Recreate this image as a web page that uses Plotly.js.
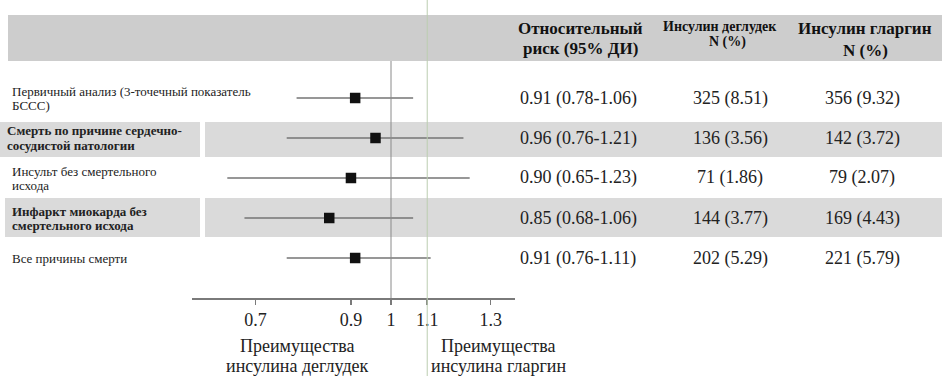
<!DOCTYPE html>
<html><head><meta charset="utf-8">
<script src="https://cdn.plot.ly/plotly-3.0.1.min.js"></script>
<style>html,body{margin:0;padding:0;background:#fff}</style>
</head><body><div id="chart" style="width:942px;height:376px"></div>
<script>
// ---- data ----
const outcomes = [
  "Первичный анализ (3-точечный показатель|БССС)",
  "Смерть по причине сердечно-|сосудистой патологии",
  "Инсульт без смертельного|исхода",
  "Инфаркт миокарда без|смертельного исхода",
  "Все причины смерти"
];
const hr = [0.91, 0.96, 0.90, 0.85, 0.91];
const ciLow = [0.78, 0.76, 0.65, 0.68, 0.76];
const ciHigh = [1.06, 1.21, 1.23, 1.06, 1.11];
const degN = [325, 136, 71, 144, 202];
const degPct = ["8.51", "3.56", "1.86", "3.77", "5.29"];
const glaN = [356, 142, 79, 169, 221];
const glaPct = ["9.32", "3.72", "2.07", "4.43", "5.79"];
const tickVals = [0.7, 0.9, 1, 1.1, 1.3];
const tickText = ["0.7", "0.9", "1", "1.1", "1.3"];
const headers = [
  ["Относительный", "риск (95% ДИ)"],
  ["Инсулин деглудек", "N (%)"],
  ["Инсулин гларгин", "N (%)"]
];
const favourLeft = ["Преимущества", "инсулина деглудек"];
const favourRight = ["Преимущества", "инсулина гларгин"];

// ---- layout helpers ----
const W = 942, H = 376;
const px = v => v / W;
const py = v => 1 - v / H;
const ROW0 = 98, ROWH = 40;        // pixel of first row, row pitch
const ONE_PX = 391, PX_DEC = 875;  // pixel of x=1, pixels per decade
const AX_L = 192, AX_R = 515, AX_Y = 298;
const rows = outcomes.map((_, i) => i);
const serif = "Liberation Serif";

const trace = {
  type: "scatter", mode: "markers",
  x: hr, y: rows,
  marker: { symbol: "square", size: 10.5, color: "#111" },
  error_x: {
    type: "data", symmetric: false,
    array: hr.map((v, i) => ciHigh[i] - v),
    arrayminus: hr.map((v, i) => v - ciLow[i]),
    color: "#747474", thickness: 1.6, width: 0
  },
  hoverinfo: "skip", showlegend: false, cliponaxis: false
};

const shapes = [];
const band = (x0, x1, y0, y1, c) => shapes.push({
  type: "rect", xref: "paper", yref: "paper", layer: "below",
  x0: px(x0), x1: px(x1), y0: py(y1), y1: py(y0),
  fillcolor: c, line: { width: 0 }
});
band(8, 942, 15, 61, "#cdcdcd");
band(0, 200, 122, 157, "#dadada"); band(205, 942, 122, 157, "#dadada");
band(5, 200, 198, 237, "#dadada"); band(205, 942, 198, 237, "#dadada");
shapes.push({ type: "line", xref: "x", yref: "paper", x0: 1, x1: 1,
  y0: py(AX_Y), y1: py(61), line: { color: "#8a8a8a", width: 1 } });
shapes.push({ type: "line", xref: "x", yref: "paper", x0: 1.1, x1: 1.1,
  y0: 0, y1: 1, line: { color: "#bccdb0", width: 1 } });

const ann = [];
const txt = (text, x, y, opts) => ann.push(Object.assign({
  text, x, y, xref: "paper", yref: "paper", showarrow: false,
  xanchor: "center", yanchor: "middle",
  font: { family: serif, size: 18, color: "#222" }
}, opts || {}));

// left labels
outcomes.forEach((lab, i) => {
  const lines = lab.split("|");
  const c = ROW0 + ROWH * i;
  lines.forEach((ln, k) => {
    const y = c + (k - (lines.length - 1) / 2) * 14;
    const bold = (i === 1 || i === 3);
    txt(bold ? "<b>" + ln + "</b>" : ln, px(i === 1 ? 5 : 10), py(y),
      { xanchor: "left", font: { family: serif, size: 13, color: "#222" } });
  });
});
// value columns
rows.forEach(i => {
  const y = py(ROW0 + ROWH * i);
  txt(hr[i].toFixed(2) + " (" + ciLow[i].toFixed(2) + "-" + ciHigh[i].toFixed(2) + ")", px(578), y);
  txt(degN[i] + " (" + degPct[i] + ")", px(730), y);
  txt(glaN[i] + " (" + glaPct[i] + ")", px(862), y);
});
// headers
const hb = s => ({ family: serif, size: s, color: "#111" });
txt("<b>" + headers[0][0] + "</b>", px(580), py(28), { font: hb(17) });
txt("<b>" + headers[0][1] + "</b>", px(580), py(48.5), { font: hb(17) });
txt("<b>" + headers[1][0] + "</b>", px(720), py(26), { font: hb(14) });
txt("<b>" + headers[1][1] + "</b>", px(727), py(42.5), { font: hb(14) });
txt("<b>" + headers[2][0] + "</b>", px(865), py(28), { font: hb(17) });
txt("<b>" + headers[2][1] + "</b>", px(865), py(50), { font: hb(17) });
// favours captions
txt(favourLeft[0], px(297), py(346));
txt(favourLeft[1], px(297), py(366));
txt(favourRight[0], px(498), py(346));
txt(favourRight[1], px(498), py(366));

const layout = {
  width: W, height: H,
  margin: { l: 0, r: 0, t: 0, b: 0 },
  paper_bgcolor: "#fff", plot_bgcolor: "rgba(0,0,0,0)",
  showlegend: false,
  xaxis: {
    type: "log",
    domain: [px(AX_L), px(AX_R)],
    range: [(AX_L - ONE_PX) / PX_DEC, (AX_R - ONE_PX) / PX_DEC],
    anchor: "free", position: py(AX_Y),
    showline: true, linecolor: "#7a7a7a", linewidth: 1.5,
    ticks: "outside", ticklen: 5, tickwidth: 1.5, tickcolor: "#7a7a7a",
    tickvals: tickVals, ticktext: tickText,
    tickfont: { family: serif, size: 18, color: "#222" },
    showgrid: false, zeroline: false, fixedrange: true
  },
  yaxis: {
    domain: [0, 1],
    range: [(H - ROW0) / ROWH, -ROW0 / ROWH],
    visible: false, fixedrange: true
  },
  shapes, annotations: ann
};

Plotly.newPlot("chart", [trace], layout, { displayModeBar: false, staticPlot: true });
</script></body></html>
